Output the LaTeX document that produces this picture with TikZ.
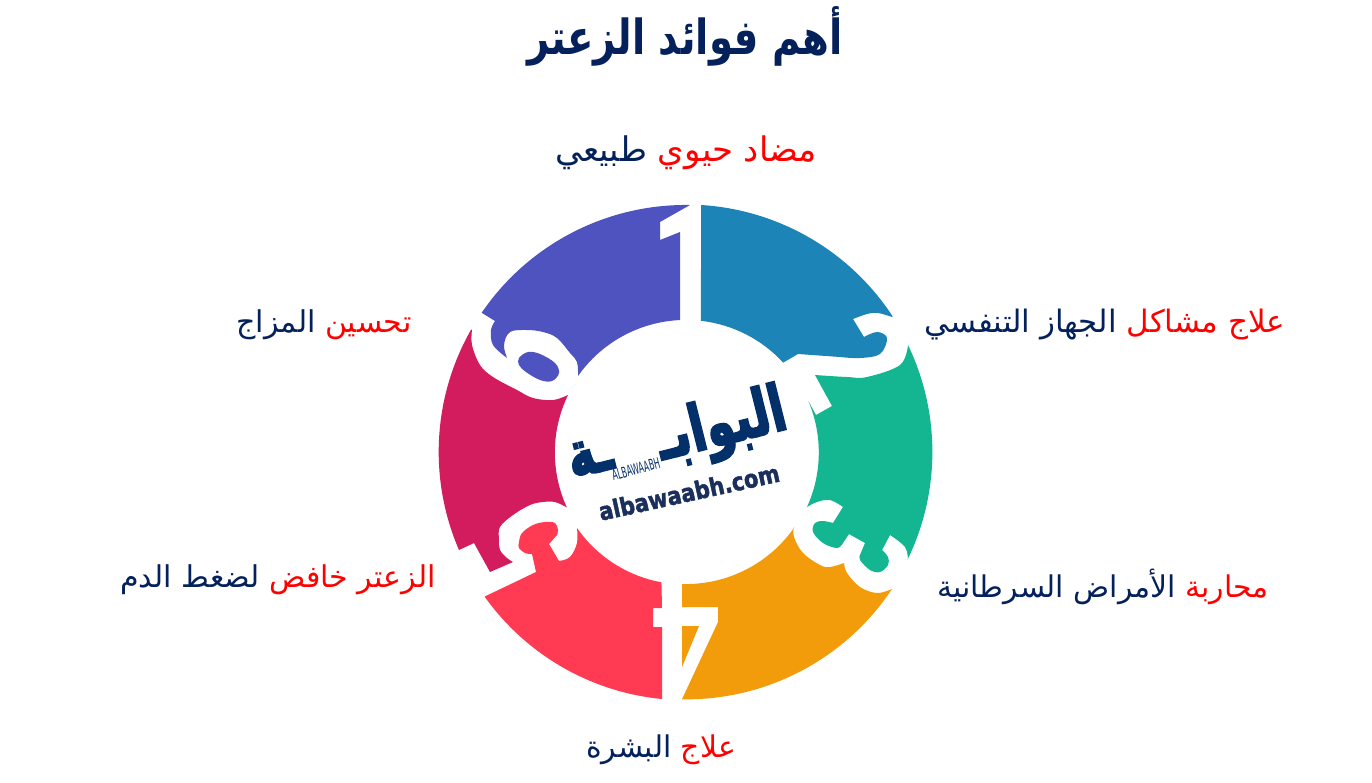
\documentclass[tikz,border=0pt]{standalone}
\usepackage{fontspec}
\usepackage{xcolor}
\TeXXeTstate=1
\newfontfamily\arabicfont[Script=Arabic]{DejaVu Sans}
\newfontfamily\logofont[Script=Arabic,BoldFeatures={FakeBold=3.5}]{DejaVu Sans}
\setsansfont[BoldFeatures={FakeBold=2}]{DejaVu Sans}
\definecolor{navyink}{HTML}{04215B}
\definecolor{redink}{HTML}{FF0000}
\definecolor{logoink}{HTML}{04306A}
\definecolor{urlink}{HTML}{1B2F5C}
\definecolor{segpurple}{HTML}{4F53C0}
\definecolor{segblue}{HTML}{1C84B7}
\definecolor{seggreen}{HTML}{13B691}
\definecolor{segorange}{HTML}{F39C0B}
\definecolor{segred}{HTML}{FF3A52}
\definecolor{segpink}{HTML}{D21C5E}
\tikzset{
    benefit/.style={inner sep=0pt, text=navyink, font=\arabicfont\fontsize{#1}{20}\selectfont},
    headline/.style={inner sep=0pt, text=navyink, font=\arabicfont\bfseries\fontsize{22}{30}\selectfont},
    logoword/.style={inner sep=0pt, rotate=14, text=logoink, font=\logofont\bfseries\fontsize{28}{36}\selectfont},
    smoothedge/.style={smooth, tension=.6}
}
\begin{document}
\begin{tikzpicture}[x=0.02cm, y=-0.02cm]
    \useasboundingbox (0,0) rectangle (1372,782);
    \fill[white] (0,0) rectangle (1372,782);

    % blue piece, digit 2 cut
    \fill[segblue] (701,205) arc[start angle=-86.5, end angle=-33.2, radius=247]
        -- plot[smoothedge] coordinates {(892,317) (878,313) (867,314) (853,319)}
        -- (864,337)
        -- plot[smoothedge] coordinates {(864,337) (877,332) (887,338) (880,354) (860,358) (840,357)}
        -- (798,354) -- (783.2,362.6)
        arc[start angle=-42.6, end angle=-83.5, radius=132] -- cycle;

    % green piece, digit 3 cut
    \fill[seggreen] (908,345) arc[start angle=-25.7, end angle=25.9, radius=246.4]
        -- plot[smoothedge] coordinates {(908,560) (905,547) (890,535)}
        -- (882,550)
        -- plot[smoothedge] coordinates {(882,550) (888,557) (888,565) (880,572) (870,570) (860,560) (860,555)}
        -- (865,543) -- (849,534) -- (843,543)
        -- plot[smoothedge] coordinates {(843,543) (837,548) (823,543) (813,532) (815,523) (823,521) (833,523)}
        -- (843,507)
        -- plot[smoothedge] coordinates {(843,507) (830,500) (817,502) (807,507)}
        arc[start angle=24.4, end angle=-22.9, radius=132]
        -- (816,415) -- (832,406) -- (815,375)
        -- plot[smoothedge] coordinates {(815,375) (847,377) (867,377) (900,365) (908,345)}
        -- cycle;

    % orange piece, digit 4 cut
    \fill[segorange] (682,584) arc[start angle=91.7, end angle=34.8, radius=132]
        -- plot[smoothedge] coordinates {(794,527) (794,537) (803,553) (820,565) (830,567) (844,563)}
        -- plot[smoothedge] coordinates {(844,563) (847,573) (860,587) (877,593) (892,589)}
        arc[start angle=33.6, end angle=91, radius=247]
        -- (718,622) -- (718,607) -- (682,607) -- cycle;
    \fill[segorange] (682,626) -- (699,626) -- (682,667) -- cycle;

    % red piece, digit 5 cut
    \fill[segred] (662,699) arc[start angle=95.5, end angle=144.5, radius=247]
        -- (536,572) -- (532,554)
        -- plot[smoothedge] coordinates {(532,554) (525,553) (519,548) (519,542) (522,533) (533,525) (545,522) (555,523) (558,530) (557,535)}
        -- (549,544) -- (559,561)
        -- plot[smoothedge] coordinates {(559,561) (570,557) (577,543) (577,528)}
        arc[start angle=145.1, end angle=100.4, radius=132]
        -- (662,608) -- (653,608) -- (653,627) -- (662,627) -- cycle;

    % pink piece, digit 6 cut
    \fill[segpink] (459,550) arc[start angle=156.6, end angle=209.7, radius=247]
        -- plot[smoothedge] coordinates {(472,330) (472,345) (480,365) (493,377) (517,390) (533,398) (553,400) (568,395)}
        arc[start angle=205.8, end angle=155.4, radius=132]
        -- plot[smoothedge] coordinates {(566,507) (555,502) (543,502) (530,505) (513,515) (500,527) (499,540) (500,550) (507,558) (513,562)}
        -- (490,572) -- (474,543) -- cycle;

    % purple piece, digit 6 and digit 1 cuts
    \fill[segpurple] (690,205) arc[start angle=-89, end angle=-145.7, radius=247]
        -- (495,321)
        -- plot[smoothedge] coordinates {(495,321) (491,330) (493,345) (507,358)}
        -- plot[smoothedge] coordinates {(507,358) (504,345) (510,332) (527,330) (543,332) (557,338) (570,353) (577,362) (578,376)}
        arc[start angle=215.1, end angle=267.4, radius=132]
        -- (680,232) -- (660,240) -- (660,222) -- cycle;
    \fill[segpurple] plot[smooth cycle, tension=.6] coordinates {(519,358) (528,352) (540,354) (555,363) (559,373) (552,381) (540,380) (526,372) (519,365)};

    % title and labels
    \node[headline] (title) at (685,36) {\scalebox{1}[1.25]{\beginR أهم فوائد الزعتر\endR}};
    \node[benefit=19.3] (top) at (686,153) {\beginR طبيعي\endR{} \textcolor{redink}{\beginR مضاد حيوي\endR}};
    \node[benefit=17.6] (upright) at (1105,325) {\beginR الجهاز التنفسي\endR{} \textcolor{redink}{\beginR علاج مشاكل\endR}};
    \node[benefit=17] (downright) at (1103,587) {\beginR الأمراض السرطانية\endR{} \textcolor{redink}{\beginR محاربة\endR}};
    \node[benefit=17] (bottom) at (661,750) {\beginR البشرة\endR{} \textcolor{redink}{\beginR علاج\endR}};
    \node[benefit=17.1] (downleft) at (278,580) {\beginR لضغط الدم\endR{} \textcolor{redink}{\beginR الزعتر خافض\endR}};
    \node[benefit=17.1] (upleft) at (324,325) {\beginR المزاج\endR{} \textcolor{redink}{\beginR تحسين\endR}};

    % logo in the hole
    \node[logoword] (logoright) at (722,428) {\scalebox{.95}[1.3]{\beginR البوابـ\endR}};
    \node[logoword] (logoleft) at (590,457) {\scalebox{.95}[1.3]{\beginR ـة\endR}};
    \node[inner sep=0pt, rotate=15, text=logoink, font=\sffamily\fontsize{8.5}{10}\selectfont] (logosmall) at (636,469) {\scalebox{.52}[1]{ALBAWAABH}};
    \node[inner sep=0pt, rotate=12.4, text=urlink, font=\sffamily\bfseries\fontsize{14}{18}\selectfont] (logourl) at (689,492) {\scalebox{.85}[1]{albawaabh.com}};
\end{tikzpicture}
\end{document}
